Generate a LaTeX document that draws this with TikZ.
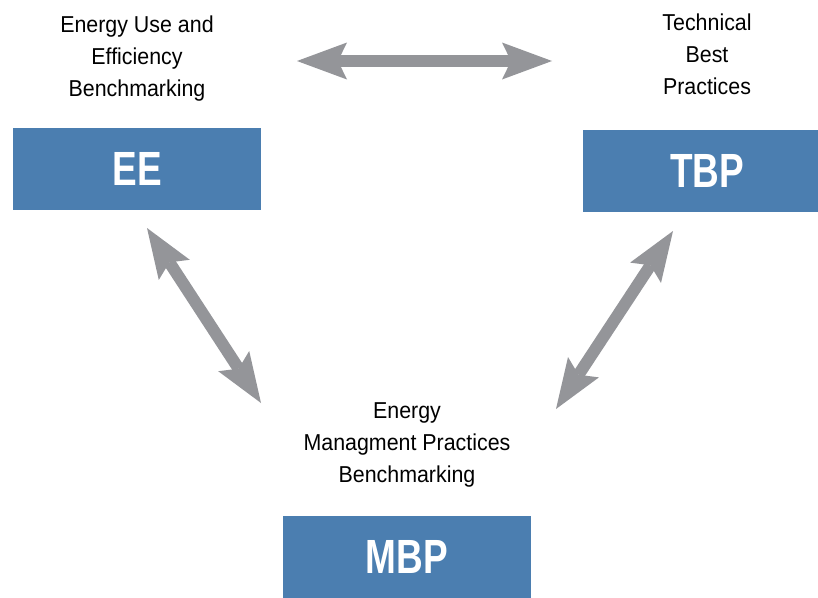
\documentclass[tikz,border=0pt]{standalone}
\usepackage{fontspec}
\setmainfont{Liberation Sans}[FakeStretch=0.93]
\newfontfamily\boxfont{Liberation Sans}[FakeStretch=0.77]
\usetikzlibrary{arrows.meta}

\definecolor{boxblue}{RGB}{75,126,176}
\definecolor{arrowgray}{RGB}{148,149,153}

\begin{document}
\begin{tikzpicture}[x=1pt,y=-1pt,
    box/.style={fill=boxblue, text=white, minimum width=248pt, minimum height=82pt,
        inner sep=0pt, font=\boxfont\bfseries\fontsize{48}{48}\selectfont},
    caption/.style={align=center, inner sep=0pt, anchor=base,
        font=\fontsize{23}{32}\selectfont},
    link/.style={draw=arrowgray, line width=12pt,
        {Stealth[length=50pt,width=37pt,inset=9pt,line width=0pt]}-{Stealth[length=50pt,width=37pt,inset=9pt,line width=0pt]}}]
    \useasboundingbox (0,0) rectangle (818,597);

    % the three benchmarking boxes
    \node[box] (ee) at (137,169) {EE};
    \node[box] (tbp) at (707,171) {TBP};
    \node[box] (mbp) at (407,557) {MBP};

    % captions sit on the baseline of their last line
    \node[caption] (ee text) at (137,96) {Energy Use and\\Efficiency\\Benchmarking};
    \node[caption] (tbp text) at (707,94) {Technical\\Best\\Practices};
    \node[caption] (mbp text) at (407,482) {Energy\\Managment Practices\\Benchmarking};

    % arrow ends
    \coordinate (ee-tbp) at (297,61);
    \coordinate (tbp-ee) at (552,61);
    \coordinate (ee-mbp) at (147,228);
    \coordinate (mbp-ee) at (261,403);
    \coordinate (tbp-mbp) at (673,231);
    \coordinate (mbp-tbp) at (556,409);

    \draw[link] (ee-tbp) -- (tbp-ee);
    \draw[link] (ee-mbp) -- (mbp-ee);
    \draw[link] (tbp-mbp) -- (mbp-tbp);
\end{tikzpicture}
\end{document}
